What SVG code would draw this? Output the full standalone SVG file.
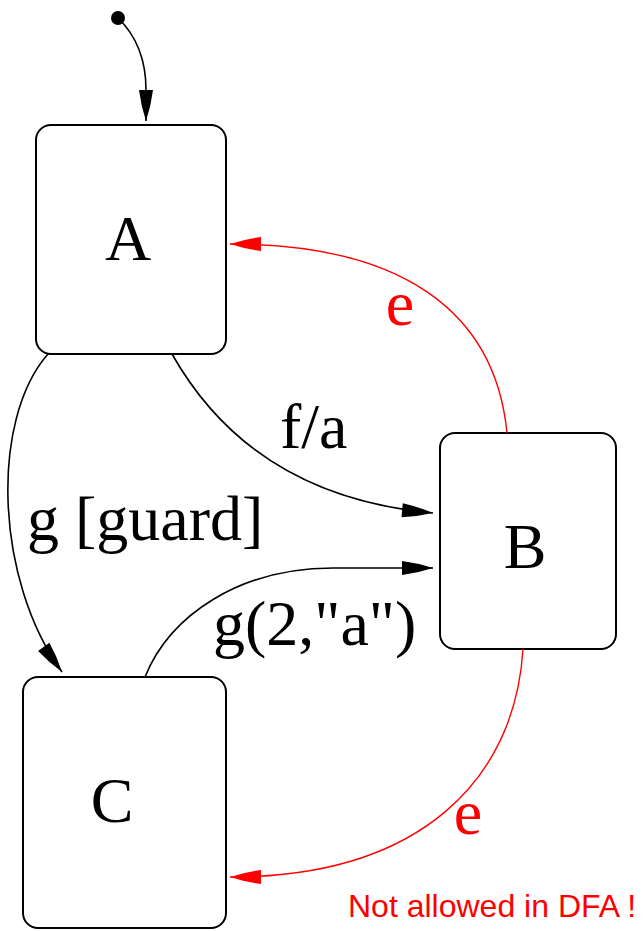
<svg xmlns="http://www.w3.org/2000/svg" width="643" height="931" viewBox="0 0 643 931">
<style>
.state{fill:#fff;stroke:#000;stroke-width:2}
.lbl{font-family:"Liberation Serif","Times New Roman",serif;font-size:64px;fill:#000}
.red{fill:#ff0000}
.edge{fill:none;stroke:#000;stroke-width:1.6}
.redge{fill:none;stroke:#ff0000;stroke-width:1.4}
.note{font-family:"Liberation Sans",Arial,sans-serif;font-size:32px;fill:#ff0000}
</style>
<defs>
<marker id="ab" markerUnits="userSpaceOnUse" markerWidth="32" markerHeight="16" refX="31" refY="7" orient="auto" overflow="visible">
<path d="M0,0 Q16,2 31,7 Q16,12 0,14 Z" fill="#000"/>
</marker>
<marker id="ar" markerUnits="userSpaceOnUse" markerWidth="32" markerHeight="16" refX="31" refY="7" orient="auto" overflow="visible">
<path d="M0,0 Q16,2 31,7 Q16,12 0,14 Z" fill="#ff0000"/>
</marker>
</defs>
<rect width="643" height="931" fill="#fff"/>
<g id="initial"><circle cx="118" cy="18" r="7" fill="#000"/></g>
<g id="A"><rect class="state" x="36" y="125" width="190" height="229" rx="15"/><text class="lbl" x="128" y="260" text-anchor="middle">A</text></g>
<g id="B"><rect class="state" x="440" y="433" width="176" height="216" rx="15"/><text class="lbl" x="525" y="568" text-anchor="middle">B</text></g>
<g id="C"><rect class="state" x="23" y="677" width="203" height="251" rx="15"/><text class="lbl" x="112" y="822" text-anchor="middle">C</text></g>
<g id="connectors">
<path class="edge" d="M118,18 Q146,45 146,90 L146,121" marker-end="url(#ab)"/>
<path class="edge" d="M48,354 C-10,420 -5,580 62,672" marker-end="url(#ab)"/>
<path class="edge" d="M172,354 C215,430 290,500 433,513" marker-end="url(#ab)"/>
<path class="edge" d="M145,677 C170,615 240,568 333,568 L433,568" marker-end="url(#ab)"/>
<path class="redge" d="M507,433 C495,310 400,244 230,244" marker-end="url(#ar)"/>
<path class="redge" d="M523,649 C515,780 420,877 230,877" marker-end="url(#ar)"/>
<text class="lbl" x="280" y="448">f/a</text>
<text class="lbl" x="27" y="540">g [guard]</text>
<text class="lbl" x="213" y="645">g(2,"a")</text>
<text class="lbl red" x="400" y="325" text-anchor="middle" font-size="66">e</text>
<text class="lbl red" x="468" y="834" text-anchor="middle" font-size="66">e</text>
<text class="note" x="348" y="917">Not allowed in DFA !</text>
</g>
</svg>
